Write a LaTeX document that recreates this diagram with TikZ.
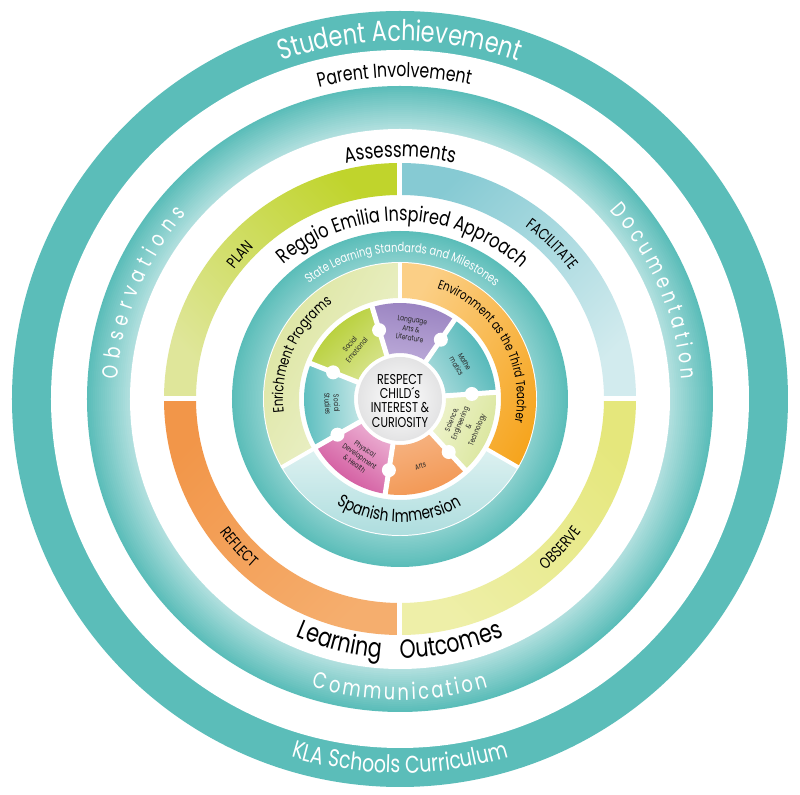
\documentclass[tikz,border=0pt]{standalone}
\usepackage{fontspec}
\setmainfont{Poppins}[FakeStretch=0.78]
\usetikzlibrary{decorations.text}

\definecolor{kteal}{HTML}{5BBDB9}
\definecolor{ktealL}{HTML}{B7E2E1}
\definecolor{plangreen}{HTML}{C0D42C}
\definecolor{plangreenL}{HTML}{DFE69A}
\definecolor{facblue}{HTML}{86CAD3}
\definecolor{facblueL}{HTML}{D2EBEE}
\definecolor{reforange}{HTML}{F29649}
\definecolor{reforangeL}{HTML}{F5AE6E}
\definecolor{obsyellow}{HTML}{E5E77C}
\definecolor{obsyellowL}{HTML}{EEEFA8}
\definecolor{enrgreen}{HTML}{DCE5A0}
\definecolor{enrgreenL}{HTML}{EFF3D3}
\definecolor{envorange}{HTML}{F6A41C}
\definecolor{envorangeL}{HTML}{FBCF86}
\definecolor{spablue}{HTML}{A3D9DA}
\definecolor{spablueL}{HTML}{DDF1F1}
\definecolor{mathteal}{HTML}{45B2B3}
\definecolor{mathtealL}{HTML}{A7DADB}
\definecolor{langpurple}{HTML}{9780BF}
\definecolor{langpurpleL}{HTML}{BBA9D8}
\definecolor{emogreen}{HTML}{B2CC2B}
\definecolor{emogreenL}{HTML}{D8E48E}
\definecolor{studteal}{HTML}{57BCBD}
\definecolor{studtealL}{HTML}{C3E6E6}
\definecolor{physpink}{HTML}{CF4E98}
\definecolor{physpinkL}{HTML}{ECB0D3}
\definecolor{artsorange}{HTML}{F2954F}
\definecolor{artsorangeL}{HTML}{F6B382}
\definecolor{scigreen}{HTML}{D9E59A}
\definecolor{scigreenL}{HTML}{EEF3CC}
\definecolor{centergrey}{HTML}{E3E3E4}

% piece of a ring: start angle, end angle, outer radius, inner radius
\newcommand{\ringpart}[4]{(#1:#3) arc[start angle=#1, end angle=#2, radius=#3] -- (#2:#4) arc[start angle=#2, end angle=#1, radius=#4] -- cycle}

\begin{document}
\begin{tikzpicture}[x=0.2mm, y=0.2mm,
    wtext/.style={decorate, decoration={text along path, text align=center, text color=white}},
    btext/.style={decorate, decoration={text along path, text align=center, text color=black}},
    gap/.style={white, line width=1mm},
    petaltext/.style={font=\fontsize{4.3}{5.2}\selectfont, align=center, inner sep=0pt, text=black!85}]
    \fill[white, use as bounding box] (-400,-396) rectangle (400,399);

    % outer rings
    \fill[kteal] (0,0) circle [radius=388];
    \fill[white] (0,0) circle [radius=349];
    \foreach \k [evaluate=\k as \p using 100-4.5*\k, evaluate=\k as \r using 313-2*\k] in {0,...,21}
        \fill[kteal!\p!ktealL] (0,0) circle [radius=\r];
    \fill[white] (0,0) circle [radius=270];

    % PLAN / FACILITATE / REFLECT / OBSERVE
    \shade[top color=plangreen, bottom color=plangreenL, shading angle=-45] \ringpart{90}{180}{236}{204};
    \shade[top color=facblue, bottom color=facblueL, shading angle=45] \ringpart{0}{90}{236}{204};
    \shade[top color=reforange, bottom color=reforangeL, shading angle=45] \ringpart{180}{270}{236}{204};
    \shade[top color=obsyellow, bottom color=obsyellowL, shading angle=-45] \ringpart{270}{360}{236}{204};
    \draw[gap] (0,202) -- (0,238);
    \draw[gap] (0,-202) -- (0,-238);
    \draw[gap] (202,0) -- (238,0);
    \draw[gap] (-202,0) -- (-238,0);

    % state standards ring
    \foreach \k [evaluate=\k as \p using 100-2.5*\k, evaluate=\k as \r using 168-1.5*\k] in {0,...,21}
        \fill[kteal!\p!ktealL] (0,0) circle [radius=\r];
    \fill[white] (0,0) circle [radius=137];

    % enrichment / spanish / environment
    \shade[top color=enrgreen, bottom color=enrgreenL, shading angle=60] \ringpart{90}{210}{136}{101};
    \shade[top color=spablueL, bottom color=spablue] \ringpart{210}{330}{136}{101};
    \shade[top color=envorange, bottom color=envorangeL, shading angle=-120] \ringpart{-30}{90}{136}{101};
    \foreach \a in {90,210,330}
        \draw[white, line width=0.8mm] (\a:99) -- (\a:137);

    % subject petals
    \foreach \a/\c in {4/mathteal, 55.43/langpurple, 106.86/emogreen, 158.29/studteal,
                       209.71/physpink, 261.14/artsorange, 312.57/scigreen} {
        \pgfmathsetmacro\b{\a+51.43}
        \pgfmathsetmacro\m{\a+25.71-90}
        \shade[top color=\c, bottom color=\c L, shading angle=\m] \ringpart{\a}{\b}{96}{46};
    }
    \foreach \a in {4,55.43,106.86,158.29,209.71,261.14,312.57} {
        \draw[gap] (\a:40) -- (\a:98);
        \fill[white] (\a:72) circle [radius=7];
    }
    \shade[inner color=white, outer color=centergrey] (0,0) circle [radius=42];

    % texts on the rings
    \path[wtext, decoration={text={|\fontsize{16.3}{18}\selectfont|Student Achievement}}]
        (180:358) arc[start angle=180, end angle=0, radius=358];
    \path[btext, decoration={text={|\fontsize{11.5}{13}\selectfont|Parent Involvement}}]
        (181:322) arc[start angle=181, end angle=1, radius=322];
    \path[wtext, decoration={text align={fit to path}, text={|\fontsize{12.5}{14}\selectfont|Observations}}]
        (176:283) arc[start angle=176, end angle=139, radius=283];
    \path[wtext, decoration={text align={fit to path}, text={|\fontsize{12.5}{14}\selectfont|Documentation}}]
        (42:282) arc[start angle=42, end angle=4, radius=282];
    \path[wtext, decoration={text align={fit to path}, text={|\fontsize{13}{14}\selectfont|Communication}}]
        (253:301) arc[start angle=253, end angle=287, radius=301];
    \path[btext, decoration={text={|\fontsize{12.2}{14}\selectfont|Assessments}}]
        (180:242) arc[start angle=180, end angle=0, radius=242];
    \path[btext, decoration={text align={fit to path stretching spaces}, text={|\fontsize{15}{17}\selectfont|Learning Outcomes}}]
        (246.3:259) arc[start angle=246.3, end angle=293.7, radius=259];
    \path[wtext, decoration={text={|\fontsize{13.8}{16}\selectfont|KLA Schools Curriculum}}]
        (180:374) arc[start angle=180, end angle=360, radius=374];

    \path[btext, decoration={text={|\fontsize{9}{10}\selectfont|PLAN}}]
        (228:210.5) arc[start angle=228, end angle=48, radius=210.5];
    \path[btext, decoration={text={|\fontsize{9}{10}\selectfont|FACILITATE}}]
        (135.5:213) arc[start angle=135.5, end angle=-44.5, radius=213];
    \path[btext, decoration={text={|\fontsize{9}{10}\selectfont|REFLECT}}]
        (132.6:224.5) arc[start angle=132.6, end angle=312.6, radius=224.5];
    \path[btext, decoration={text={|\fontsize{9}{10}\selectfont|OBSERVE}}]
        (227:224.5) arc[start angle=227, end angle=407, radius=224.5];

    \path[btext, decoration={text={|\fontsize{11.7}{13}\selectfont|Reggio Emilia Inspired Approach}}]
        (179:178) arc[start angle=179, end angle=-1, radius=178];
    \path[wtext, decoration={text={|\fontsize{7.2}{8}\selectfont|State Learning Standards and Milestones}}]
        (179:147) arc[start angle=179, end angle=-1, radius=147];
    \path[btext, decoration={text={|\fontsize{8.5}{10}\selectfont|Enrichment Programs}}]
        (246:117) arc[start angle=246, end angle=66, radius=117];
    \path[btext, decoration={text={|\fontsize{7.4}{9}\selectfont|Environment as the Third Teacher}}]
        (120:117) arc[start angle=120, end angle=-60, radius=117];
    \path[btext, decoration={text={|\fontsize{10}{12}\selectfont|Spanish Immersion}}]
        (179.5:123) arc[start angle=179.5, end angle=359.5, radius=123];

    % petal labels
    \node[petaltext, rotate=-9] (lang) at (81:71) {Language\\Arts \&\\Literature};
    \node[petaltext, rotate=-60] (math) at (30:70) {Mathe\\matics};
    \node[petaltext, rotate=68] (sci) at (338:70) {Science,\\Engineering\\\&\\Technology};
    \node[petaltext, rotate=17] (arts) at (287:70) {Arts};
    \node[petaltext, rotate=-35] (phys) at (235:70) {Physical\\Development\\\& Health};
    \node[petaltext, rotate=-86] (stud) at (184:68) {Social\\Studies};
    \node[petaltext, rotate=50] (emo) at (132:70) {Social\\Emotional};

    \node[align=center, font=\fontsize{8.1}{8}\selectfont] (core) at (0,-2)
        {RESPECT\\CHILD´s\\INTEREST \&\\CURIOSITY};
\end{tikzpicture}
\end{document}
